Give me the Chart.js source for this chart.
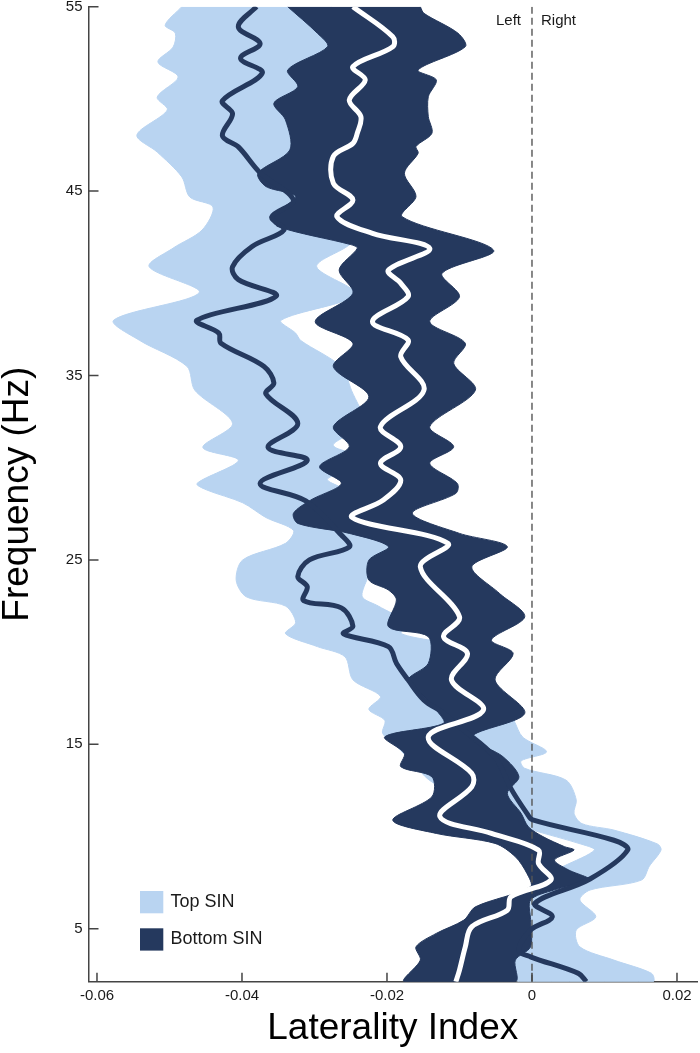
<!DOCTYPE html>
<html><head><meta charset="utf-8">
<script src="https://cdn.jsdelivr.net/npm/chart.js@4.4.1/dist/chart.umd.min.js"></script>
<style>html,body{margin:0;padding:0;background:#fff}#wrap{width:700px;height:1053px}</style>
</head><body><div id="wrap"><canvas id="c" width="700" height="1053"></canvas></div>
<script>
// ---- data: [frequency (Hz), laterality index] ----
const yTicks = [5, 15, 25, 35, 45, 55];
const xTicks = [-0.06, -0.04, -0.02, 0, 0.02];
const xTickLabels = ['-0.06', '-0.04', '-0.02', '0', '0.02'];
const freqRange = [2.13, 55];
const liRange = [-0.06117, 0.02276];
const sideLabels = ['Left', 'Right'];
const seriesNames = ['Top SIN', 'Bottom SIN'];

const topMean = [[55.0,-0.0380],[53.9,-0.0405],[53.0,-0.0375],[52.2,-0.0402],[51.4,-0.0372],[49.9,-0.0427],[49.2,-0.0413],[48.0,-0.0427],[47.4,-0.0405],[46.0,-0.0375],[44.5,-0.0329],[43.6,-0.0359],[42.9,-0.0342],[42.0,-0.0386],[40.9,-0.0413],[40.2,-0.0405],[39.3,-0.0353],[38.0,-0.0462],[37.3,-0.0432],[36.75,-0.0429],[35.5,-0.0370],[34.6,-0.0356],[34.0,-0.0367],[32.4,-0.0323],[31.1,-0.0364],[30.4,-0.0310],[29.15,-0.0375],[28.2,-0.0312],[26.35,-0.0263],[25.7,-0.0252],[25.0,-0.0307],[24.1,-0.0323],[23.55,-0.0310],[22.8,-0.0315],[22.4,-0.0263],[21.4,-0.0247],[21.0,-0.0260],[20.3,-0.0198],[19.4,-0.0187],[18.5,-0.0171],[17.4,-0.0149],[16.7,-0.0122],[15.96,-0.0100],[14.3,-0.0051],[12.6,-0.0029],[11.26,-0.0007],[10.9,0.0001],[9.8,0.0113],[9.27,0.0132],[7.7,0.0080],[6.38,0.0004],[5.65,0.0028],[4.93,-0.0002],[3.84,-0.0018],[3.48,-0.0002],[2.58,0.0064],[2.13,0.0075]];

const topLower = [[55.0,-0.0483],[54.0,-0.0506],[53.57,-0.0492],[52.81,-0.0495],[52.0,-0.0516],[51.19,-0.0488],[50.1,-0.0517],[49.4,-0.0503],[48.04,-0.0545],[47.12,-0.0517],[45.77,-0.0483],[44.68,-0.0472],[44.14,-0.0440],[42.89,-0.0455],[41.91,-0.0495],[40.9,-0.0528],[39.5,-0.0459],[38.0,-0.0577],[36.9,-0.0541],[35.5,-0.0476],[34.2,-0.0465],[32.4,-0.0413],[31.1,-0.0454],[30.4,-0.0405],[29.15,-0.0462],[28.8,-0.0449],[28.1,-0.0399],[27.3,-0.0367],[26.6,-0.0329],[25.9,-0.0340],[25.0,-0.0399],[23.9,-0.0408],[23.0,-0.0394],[22.5,-0.0340],[21.6,-0.0326],[21.0,-0.0340],[20.3,-0.0296],[19.75,-0.0258],[18.5,-0.0247],[17.6,-0.0209],[16.9,-0.0225],[16.3,-0.0203],[15.6,-0.0206],[14.9,-0.0187],[13.8,-0.0160],[13.1,-0.0143],[12.0,-0.0099],[11.26,-0.0072],[10.35,0.0001],[9.6,0.0067],[9.27,0.0086],[8.4,0.0044],[7.64,0.0003],[7.1,0.0012],[6.56,-0.0038],[5.65,-0.0032],[4.93,-0.0065],[4.02,-0.0096],[3.3,-0.0085],[2.58,-0.0037],[2.13,-0.0017]];

const topUpper = [[55.0,-0.0276],[54.0,-0.0300],[53.2,-0.0272],[52.0,-0.0275],[51.2,-0.0266],[50.1,-0.0323],[49.4,-0.0331],[48.0,-0.0310],[46.9,-0.0274],[45.6,-0.0247],[44.2,-0.0229],[42.9,-0.0227],[42.0,-0.0255],[40.9,-0.0297],[39.4,-0.0243],[38.0,-0.0346],[37.3,-0.0326],[36.9,-0.0319],[35.5,-0.0264],[34.2,-0.0249],[32.4,-0.0233],[31.2,-0.0274],[30.4,-0.0215],[29.4,-0.0282],[28.8,-0.0255],[28.1,-0.0219],[27.3,-0.0209],[26.6,-0.0211],[25.9,-0.0170],[25.0,-0.0215],[23.9,-0.0228],[23.0,-0.0234],[22.5,-0.0212],[21.6,-0.0174],[21.0,-0.0180],[20.3,-0.0100],[19.75,-0.0124],[18.5,-0.0095],[17.6,-0.0097],[16.9,-0.0035],[16.3,-0.0025],[15.4,-0.0013],[14.6,0.0020],[14.1,-0.0015],[13.7,-0.0010],[13.06,0.0047],[12.0,0.0061],[11.26,0.0058],[10.7,0.0069],[10.35,0.0113],[9.6,0.0173],[9.27,0.0178],[8.4,0.0162],[7.64,0.0151],[7.1,0.0080],[6.56,0.0066],[5.65,0.0088],[4.93,0.0061],[4.02,0.0066],[3.3,0.0113],[2.58,0.0165],[2.13,0.0167]];

const bottomMean = [[55.0,-0.0247],[53.37,-0.0192],[52.83,-0.0192],[51.75,-0.0247],[51.03,-0.0230],[49.94,-0.0252],[49.04,-0.0236],[48.14,-0.0241],[47.59,-0.0247],[46.88,-0.0274],[45.43,-0.0274],[44.52,-0.0247],[43.61,-0.0269],[42.71,-0.0220],[41.89,-0.0141],[40.72,-0.0198],[40.0,-0.0181],[39.27,-0.0171],[37.92,-0.0220],[36.93,-0.0171],[36.02,-0.0181],[34.21,-0.0149],[32.23,-0.0209],[31.14,-0.0181],[30.24,-0.0209],[29.33,-0.0181],[28.25,-0.0205],[27.3,-0.0248],[25.9,-0.0116],[24.63,-0.0154],[21.92,-0.0100],[20.84,-0.0122],[19.93,-0.0089],[18.49,-0.0111],[16.86,-0.0067],[15.41,-0.0143],[13.43,-0.0083],[12.7,-0.0083],[11.08,-0.0127],[10.17,-0.0056],[9.27,0.0009],[8.54,0.0009],[7.64,0.0026],[6.74,-0.0029],[6.01,-0.0034],[5.11,-0.0083],[4.02,-0.0092],[2.76,-0.0100],[2.13,-0.0105]];

const bottomLower = [[55.0,-0.0337],[53.56,-0.0296],[52.83,-0.0282],[51.57,-0.0337],[50.66,-0.0323],[49.77,-0.0356],[48.86,-0.0340],[47.23,-0.0334],[45.97,-0.0378],[45.25,-0.0367],[44.71,-0.0326],[43.6,-0.0359],[43.07,-0.0350],[42.1,-0.0250],[41.9,-0.0241],[40.72,-0.0266],[39.46,-0.0247],[37.92,-0.0299],[36.75,-0.0247],[35.48,-0.0274],[33.85,-0.0225],[32.23,-0.0274],[31.14,-0.0252],[30.06,-0.0293],[29.15,-0.0263],[28.25,-0.0305],[27.53,-0.0329],[26.98,-0.0323],[26.44,-0.0252],[25.72,-0.0198],[24.99,-0.0225],[23.91,-0.0225],[23.37,-0.0198],[22.83,-0.0187],[21.38,-0.0198],[20.84,-0.0143],[19.39,-0.0143],[18.49,-0.0171],[17.58,-0.0149],[16.86,-0.0132],[16.14,-0.0122],[15.41,-0.0203],[14.51,-0.0176],[13.79,-0.0181],[13.24,-0.0138],[12.16,-0.0138],[10.89,-0.0192],[10.17,-0.0132],[9.63,-0.0051],[8.91,-0.0023],[8.0,-0.0007],[7.28,-0.0002],[6.19,-0.0078],[5.47,-0.0094],[4.75,-0.0132],[4.02,-0.0160],[3.3,-0.0154],[2.13,-0.0176]];

const bottomUpper = [[55.0,-0.0154],[54.64,-0.0149],[53.56,-0.0102],[52.83,-0.0092],[51.57,-0.0157],[51.03,-0.0132],[50.12,-0.0143],[49.04,-0.0143],[48.14,-0.0138],[47.42,-0.0160],[47.06,-0.0157],[45.97,-0.0176],[44.71,-0.0160],[43.61,-0.0179],[41.8,-0.0053],[40.54,-0.0124],[39.27,-0.0100],[37.92,-0.0141],[36.75,-0.0092],[35.66,-0.0108],[34.21,-0.0078],[32.23,-0.0141],[31.14,-0.0108],[30.24,-0.0141],[29.15,-0.0103],[28.61,-0.0105],[27.53,-0.0165],[26.44,-0.0100],[25.72,-0.0034],[24.63,-0.0083],[23.19,-0.0045],[21.92,-0.0010],[20.66,-0.0056],[19.93,-0.0026],[18.49,-0.0051],[16.68,-0.0010],[15.41,-0.0083],[14.33,-0.0040],[13.24,-0.0018],[12.34,-0.0034],[11.26,-0.0015],[10.53,-0.0005],[10.0,0.0015],[9.45,0.0045],[9.27,0.0058],[8.73,0.0031],[8.2,0.0050],[7.64,0.0080],[7.1,0.0030],[6.56,-0.0002],[5.5,-0.0002],[4.02,-0.0002],[3.3,-0.0023],[2.13,-0.0023]];

const zeroValue = 0;

// ---- styling ----
const LIGHT = '#b9d4f1', DARK = '#25395e', AXIS = '#444444', TEXT = '#1a1a1a';
const FAMILY = '"Liberation Sans", Arial, Helvetica, sans-serif';

function pts(arr) { return arr.map(([f, li]) => ({x: li, y: f})); }
function band(lower, upper) { return pts(lower).concat(pts(upper).reverse()); }

const decor = {
  id: 'decor',
  afterDraw(chart) {
    const {ctx, chartArea: a, scales: {x, y}} = chart;
    ctx.save();
    ctx.strokeStyle = AXIS; ctx.lineWidth = 1.5;
    ctx.beginPath();
    x.ticks.forEach(t => { const px = x.getPixelForValue(t.value); ctx.moveTo(px, a.bottom); ctx.lineTo(px, a.bottom - 9); });
    y.ticks.forEach(t => { const py = y.getPixelForValue(t.value); ctx.moveTo(a.left, py); ctx.lineTo(a.left + 10, py); });
    ctx.stroke();
    const x0 = x.getPixelForValue(zeroValue);
    ctx.fillStyle = TEXT;
    ctx.font = '15px ' + FAMILY;
    ctx.textBaseline = 'alphabetic';
    ctx.textAlign = 'right'; ctx.fillText(sideLabels[0], x0 - 11, a.top + 18.5);
    ctx.textAlign = 'left'; ctx.fillText(sideLabels[1], x0 + 9, a.top + 18.5);
    // legend
    const items = chart.data.datasets.filter(d => d.inLegend).sort((p, q) => p.legendOrder - q.legendOrder);
    ctx.font = '18px ' + FAMILY;
    ctx.textBaseline = 'middle';
    items.forEach((d, i) => {
      const top = a.top + 884.3 + i * 37.3;
      ctx.fillStyle = d.backgroundColor;
      ctx.fillRect(a.left + 51.5, top, 23.3, 22.3);
      ctx.fillStyle = TEXT;
      ctx.fillText(d.label, a.left + 82, top + 11.2);
    });
    ctx.restore();
  }
};

const common = {pointRadius: 0, pointHoverRadius: 0};

new Chart(document.getElementById('c'), {
  type: 'line',
  data: {
    datasets: [
      Object.assign({label: seriesNames[1] + ' mean', data: pts(bottomMean), borderColor: '#ffffff', borderWidth: 5, tension: 0.35, fill: false}, common),
      Object.assign({label: seriesNames[0] + ' mean', data: pts(topMean), borderColor: DARK, borderWidth: 5, tension: 0.35, fill: false}, common),
      Object.assign({label: 'zero', data: pts([[freqRange[0], zeroValue], [freqRange[1], zeroValue]]), borderColor: '#555555', borderWidth: 1.4, borderDash: [7, 4], tension: 0, fill: false}, common),
      Object.assign({label: seriesNames[1], inLegend: true, legendOrder: 1, data: band(bottomLower, bottomUpper), backgroundColor: DARK, borderColor: DARK, borderWidth: 1, tension: 0.3, fill: 'shape'}, common),
      Object.assign({label: seriesNames[0], inLegend: true, legendOrder: 0, data: band(topLower, topUpper), backgroundColor: LIGHT, borderColor: LIGHT, borderWidth: 1, tension: 0.3, fill: 'shape'}, common)
    ]
  },
  options: {
    responsive: false,
    animation: false,
    devicePixelRatio: 1,
    layout: {padding: {top: 6.7, right: 3, left: 0, bottom: 0}},
    plugins: {legend: {display: false}, tooltip: {enabled: false}},
    events: [],
    scales: {
      x: {
        type: 'linear', min: liRange[0], max: liRange[1], bounds: 'data',
        afterBuildTicks: s => { s.ticks = xTicks.map(v => ({value: v})); },
        afterFit: s => { s.height = 71.3; s.paddingLeft = 0; s.paddingRight = 0; },
        grid: {display: false, drawTicks: false},
        border: {display: true, color: AXIS, width: 1.5},
        ticks: {autoSkip: false, maxRotation: 0, minRotation: 0, padding: 5, color: TEXT, font: {family: FAMILY, size: 15},
          callback: (v, i) => xTickLabels[i]},
        title: {display: true, text: 'Laterality Index', color: '#000', font: {family: FAMILY, size: 37, lineHeight: 1}, padding: {top: 0, bottom: 5.5}}
      },
      y: {
        type: 'linear', min: freqRange[0], max: freqRange[1], bounds: 'data',
        afterBuildTicks: s => { s.ticks = yTicks.map(v => ({value: v})); },
        afterFit: s => { s.width = 88.5; s.paddingTop = 0; s.paddingBottom = 0; },
        grid: {display: false, drawTicks: false},
        border: {display: true, color: AXIS, width: 1.5},
        ticks: {autoSkip: false, padding: 6, color: TEXT, font: {family: FAMILY, size: 15}, callback: v => String(v)},
        title: {display: true, text: 'Frequency (Hz)', color: '#000', font: {family: FAMILY, size: 37, lineHeight: 1}, padding: {top: -0.5, bottom: 0}}
      }
    }
  },
  plugins: [decor]
});
</script>
</body></html>
